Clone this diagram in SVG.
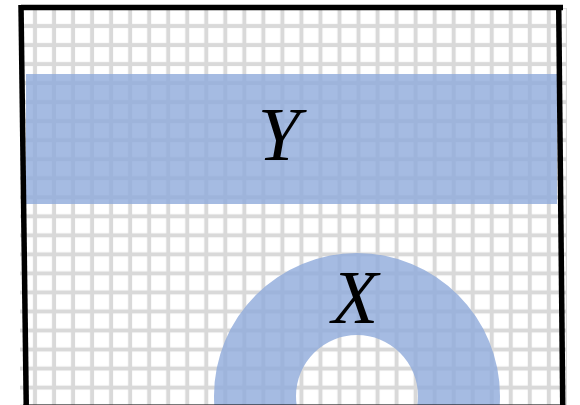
<svg xmlns="http://www.w3.org/2000/svg" width="580" height="405" viewBox="0 0 580 405">
  <defs>
    <pattern id="grid" patternUnits="userSpaceOnUse" x="16" y="7" width="19.03" height="19.03">
      <rect x="0" y="0" width="19.03" height="19.03" fill="#ffffff"/>
      <rect x="17" y="0" width="4" height="19.03" fill="#d9d9d9"/>
      <rect x="0" y="17" width="19.03" height="4" fill="#d9d9d9"/>
      <rect x="-2.03" y="0" width="4" height="19.03" fill="#d9d9d9"/>
      <rect x="0" y="-2.03" width="19.03" height="4" fill="#d9d9d9"/>
    </pattern>
    <style>
      .shade { fill: #8EAADB; fill-opacity: 0.8; }
      .border { stroke: #000000; stroke-width: 5.5; fill: none; stroke-linecap: butt; }
      .label { font-family: "Liberation Serif", "Times New Roman", serif; font-style: italic; font-size: 76px; fill: #000000; text-anchor: middle; }
    </style>
  </defs>
  <rect x="0" y="0" width="580" height="405" fill="#ffffff"/>
  <g id="grid-area">
    <rect x="20" y="8" width="547" height="400" fill="url(#grid)"/>
  </g>
  <g id="Y">
    <rect class="shade" x="26" y="74" width="531" height="130"/>
    <text class="label" x="279" y="160">Y</text>
  </g>
  <g id="X">
    <path class="shade" fill-rule="evenodd" d="M 214 396 A 143 143 0 0 1 500 396 A 143 143 0 0 1 214 396 Z M 296 396 A 61 61 0 0 0 418 396 A 61 61 0 0 0 296 396 Z"/>
    <text class="label" x="355" y="323">X</text>
  </g>
  <g id="frame">
    <line class="border" x1="21" y1="7.5" x2="563" y2="7.5"/>
    <line class="border" x1="21" y1="5" x2="26.3" y2="410"/>
    <line class="border" x1="558.7" y1="5" x2="562.8" y2="410"/>
    <line class="border" x1="23" y1="407.2" x2="565" y2="407.2"/>
  </g>
</svg>
